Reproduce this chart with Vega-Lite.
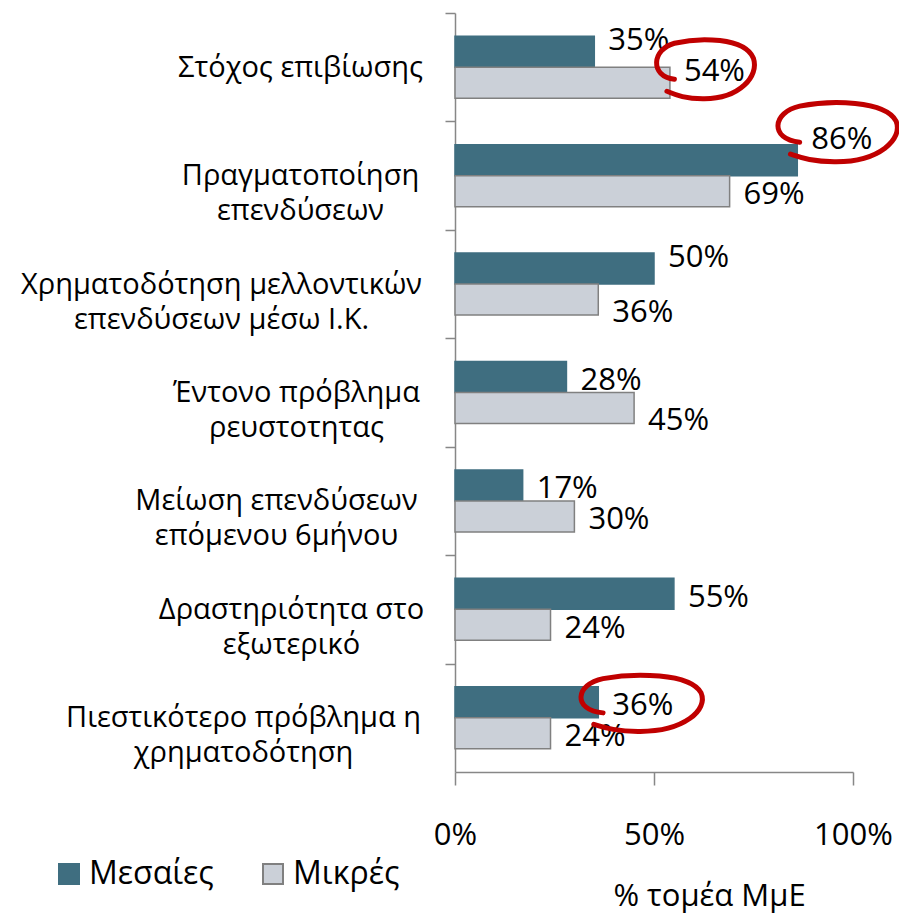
{
  "$schema": "https://vega.github.io/schema/vega-lite/v6.json",
  "width": 398,
  "height": 759,
  "autosize": "none",
  "padding": {"left": 455, "top": 13, "right": 46, "bottom": 141},
  "background": "white",
  "config": {"font": "Open Sans", "view": {"stroke": null}},
  "data": {
    "values": [
      {"cat": "Στόχος επιβίωσης", "series": "Μεσαίες", "value": 0.35},
      {"cat": "Στόχος επιβίωσης", "series": "Μικρές", "value": 0.54},
      {"cat": "Πραγματοποίηση|επενδύσεων", "series": "Μεσαίες", "value": 0.86},
      {"cat": "Πραγματοποίηση|επενδύσεων", "series": "Μικρές", "value": 0.69},
      {"cat": "Χρηματοδότηση μελλοντικών|επενδύσεων μέσω Ι.Κ.", "series": "Μεσαίες", "value": 0.50},
      {"cat": "Χρηματοδότηση μελλοντικών|επενδύσεων μέσω Ι.Κ.", "series": "Μικρές", "value": 0.36},
      {"cat": "Έντονο πρόβλημα|ρευστοτητας", "series": "Μεσαίες", "value": 0.28},
      {"cat": "Έντονο πρόβλημα|ρευστοτητας", "series": "Μικρές", "value": 0.45},
      {"cat": "Μείωση επενδύσεων|επόμενου 6μήνου", "series": "Μεσαίες", "value": 0.17},
      {"cat": "Μείωση επενδύσεων|επόμενου 6μήνου", "series": "Μικρές", "value": 0.30},
      {"cat": "Δραστηριότητα στο|εξωτερικό", "series": "Μεσαίες", "value": 0.55},
      {"cat": "Δραστηριότητα στο|εξωτερικό", "series": "Μικρές", "value": 0.24},
      {"cat": "Πιεστικότερο πρόβλημα η|χρηματοδότηση", "series": "Μεσαίες", "value": 0.36},
      {"cat": "Πιεστικότερο πρόβλημα η|χρηματοδότηση", "series": "Μικρές", "value": 0.24}
    ]
  },
  "encoding": {
    "y": {
      "field": "cat",
      "type": "nominal",
      "sort": null,
      "scale": {"paddingInner": 0.428, "paddingOuter": 0.214},
      "axis": {
        "title": null,
        "domainColor": "#878787",
        "domainWidth": 1.5,
        "tickColor": "#878787",
        "tickWidth": 1.5,
        "tickSize": 10,
        "tickOffset": -54.2,
        "labelOffset": 54.2,
        "labelExpr": "split(datum.value, '|')",
        "labelFont": "Open Sans",
        "labelFontSize": 29,
        "labelLineHeight": 35,
        "labelAlign": "center",
        "labelBaseline": "middle",
        "labelColor": "black",
        "labelLimit": 0,
        "labelPadding": {
          "condition": [
            {"test": "datum.value === 'Χρηματοδότηση μελλοντικών|επενδύσεων μέσω Ι.Κ.'", "value": 224},
            {"test": "datum.value === 'Πιεστικότερο πρόβλημα η|χρηματοδότηση'", "value": 202},
            {"test": "datum.value === 'Μείωση επενδύσεων|επόμενου 6μήνου'", "value": 169},
            {"test": "datum.value === 'Δραστηριότητα στο|εξωτερικό'", "value": 154},
            {"test": "datum.value === 'Έντονο πρόβλημα|ρευστοτητας'", "value": 149}
          ],
          "value": 145
        }
      }
    },
    "yOffset": {
      "field": "series",
      "type": "nominal",
      "sort": ["Μεσαίες", "Μικρές"],
      "scale": {"paddingInner": 0, "paddingOuter": 0}
    }
  },
  "layer": [
    {
      "mark": {"type": "bar", "strokeWidth": 1.5},
      "encoding": {
        "x": {
          "field": "value",
          "type": "quantitative",
          "scale": {"domain": [0, 1], "nice": false},
          "axis": {
            "values": [0, 0.5, 1],
            "format": ".0%",
            "grid": false,
            "domainColor": "#878787",
            "domainWidth": 1.5,
            "tickColor": "#878787",
            "tickWidth": 1.5,
            "tickSize": 13,
            "labelFontSize": 31,
            "labelColor": "black",
            "labelPadding": 50,
            "labelBaseline": "middle",
            "labelFlush": false,
            "title": "% τομέα ΜμΕ",
            "titleFontSize": 31,
            "titleFontWeight": "normal",
            "titleColor": "black",
            "titleX": 254,
            "titleY": 133,
            "titleAlign": "center",
            "titleBaseline": "alphabetic"
          }
        },
        "color": {
          "field": "series",
          "type": "nominal",
          "sort": ["Μεσαίες", "Μικρές"],
          "scale": {"domain": ["Μεσαίες", "Μικρές"], "range": ["#3F6E80", "#CBD0D8"]},
          "legend": {
            "orient": "none",
            "legendX": -402,
            "legendY": 845,
            "direction": "horizontal",
            "title": null,
            "symbolType": "square",
            "symbolSize": 400,
            "symbolStrokeWidth": 2,
            "labelFontSize": 32,
            "labelColor": "black",
            "labelOffset": 4,
            "columnPadding": 43,
            "labelBaseline": "middle"
          }
        },
        "stroke": {
          "field": "series",
          "type": "nominal",
          "sort": ["Μεσαίες", "Μικρές"],
          "scale": {"domain": ["Μεσαίες", "Μικρές"], "range": ["#3F6E80", "#808080"]}
        }
      }
    },
    {
      "mark": {
        "type": "text",
        "align": "left",
        "baseline": "middle",
        "dx": 14,
        "dy": {"expr": "(datum.cat === 'Πραγματοποίηση|επενδύσεων' && datum.series === 'Μεσαίες') ? -20 : (datum.cat === 'Στόχος επιβίωσης' || (datum.cat === 'Χρηματοδότηση μελλοντικών|επενδύσεων μέσω Ι.Κ.' && datum.series === 'Μεσαίες')) ? -11 : ((datum.cat === 'Χρηματοδότηση μελλοντικών|επενδύσεων μέσω Ι.Κ.' || datum.cat === 'Έντονο πρόβλημα|ρευστοτητας') && datum.series === 'Μικρές') ? 13 : 4"},
        "fontSize": 31,
        "color": "black"
      },
      "encoding": {
        "x": {"field": "value", "type": "quantitative"},
        "text": {"field": "value", "type": "quantitative", "format": ".0%"}
      }
    },
    {
      "transform": [
        {"filter": "(datum.series === 'Μικρές' && datum.cat === 'Στόχος επιβίωσης') || (datum.series === 'Μεσαίες' && (datum.cat === 'Πραγματοποίηση|επενδύσεων' || datum.cat === 'Πιεστικότερο πρόβλημα η|χρηματοδότηση'))"}
      ],
      "mark": {"type": "point", "filled": false, "size": 400, "stroke": "#C00000", "strokeWidth": 5, "opacity": 1, "strokeCap": "round"},
      "encoding": {
        "x": {"field": "value", "type": "quantitative"},
        "shape": {
          "field": "cat",
          "type": "nominal",
          "scale": {
            "domain": ["Στόχος επιβίωσης", "Πραγματοποίηση|επενδύσεων", "Πιεστικότερο πρόβλημα η|χρηματοδότηση"],
            "range": [
              "M0.45,-0.35 C-2.05,-0.65 -1.8,-3.35 0.45,-3.95 C2.95,-4.55 7.45,-4.55 8.35,-2.45 C8.95,-0.65 6.95,1.6 3.45,1.6 C1.45,1.63 0.45,1.15 -0.3,0.85",
              "M0.24,-1.8 C-2.81,-2.1 -2.5,-4.8 0.24,-5.4 C3.29,-6 8.78,-6 9.88,-3.9 C10.61,-2.1 8.17,0.15 3.9,0.15 C1.46,0.18 0.24,-0.3 -0.68,-0.6",
              "M0.48,1.06 C-2.62,0.77 -2.31,-1.8 0.48,-2.37 C3.58,-2.94 9.16,-2.94 10.28,-0.94 C11.02,0.77 8.54,2.91 4.2,2.91 C1.72,2.94 0.48,2.48 -0.45,2.2"
            ]
          },
          "legend": null
        }
      }
    }
  ]
}
